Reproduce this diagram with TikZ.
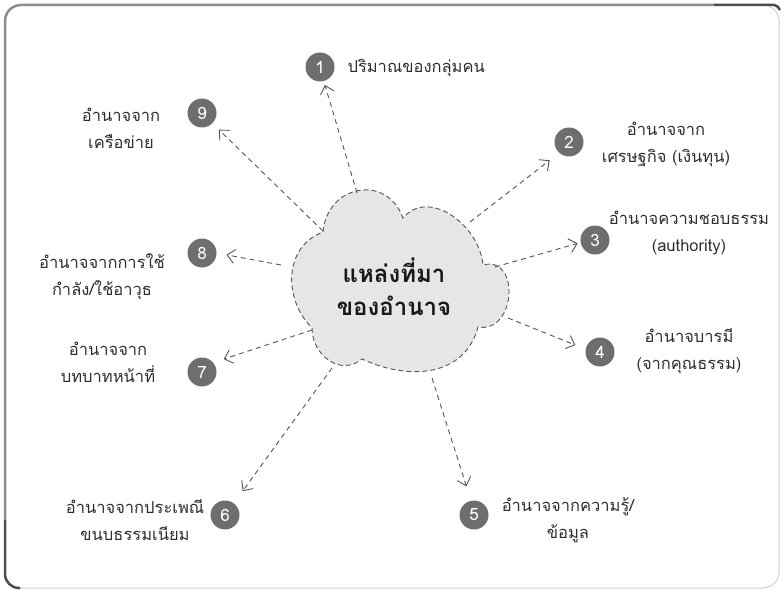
\documentclass[tikz,border=0pt]{standalone}
\usepackage{fontspec}
\newfontfamily\thaifont[Script=Thai]{Loma}
\usetikzlibrary{arrows.meta,positioning,calc}
\definecolor{dotgray}{HTML}{6E6E70}
\definecolor{cloudfill}{HTML}{E6E6E8}
\definecolor{linegray}{HTML}{555555}
\definecolor{textgray}{HTML}{2E2E2E}

\begin{document}
\begin{tikzpicture}[x=1pt,y=1pt,
  numdot/.style={circle, fill=dotgray, text=white, minimum size=29pt, inner sep=0pt,
    font=\thaifont\fontsize{17}{17}\selectfont},
  lbl/.style={align=center, text=textgray, font=\thaifont\fontsize{16.5}{27}\selectfont},
  flow/.style={draw=linegray, line width=0.9pt, dash pattern=on 5pt off 4pt,
    -{Straight Barb[length=7.5pt,width=14pt]}}]
\useasboundingbox (0,0) rectangle (782,-591);
% Frame
\draw[black!18, line width=1pt, rounded corners=16pt] (5,-5) rectangle (779,-588);
\draw[black!45, line width=2.5pt, rounded corners=16pt] (5,-520) -- (5,-5) -- (714,-5);
\draw[black!70, line width=2.5pt] (714,-5) -- (774,-5) to[out=0,in=120] (780,-10);
\draw[black!70, line width=2.5pt, rounded corners=14pt] (5,-520) -- (5,-588) -- (20,-588);
% Cloud
\draw[linegray, line width=0.9pt, dash pattern=on 5pt off 3pt, fill=cloudfill]
  (323,-232) to[out=85,in=110,looseness=1.5] (403,-218)
  to[out=50,in=95,looseness=1.1] (483,-265)
  to[out=15,in=-10,looseness=1.6] (478,-327)
  to[out=-105,in=-25,looseness=1.1] (362,-359)
  to[out=-140,in=-90,looseness=1.2] (312,-328)
  to[out=135,in=200,looseness=1.1] cycle;
\node[font=\thaifont\bfseries\fontsize{24}{33}\selectfont, align=center, text=black!90] (src)
  at (394,-287) {แหล่งที่มา\\ของอำนาจ};
% Start points on the cloud
\foreach \i/\x/\y in {1/357/193, 2/470/222, 3/495/267, 4/508/318, 5/432/378,
                      6/332/368, 7/312/330, 8/281/265, 9/323/231}
  \coordinate (c\i) at (\x,-\y);
% Numbered dots
\foreach \i/\x/\y in {1/320/67, 2/569/142, 3/595/240, 4/600/352, 5/474/515,
                      6/225/515, 7/202/372, 8/202/253, 9/202/113}
  \node[numdot] (n\i) at (\x,-\y) {\i};
% Arrows: cloud -> dot (anchor angle / gap)
\foreach \i/\a/\g in {1/285/4, 2/228/12, 3/190/3, 4/169/11, 5/102/15,
                      6/53/15, 7/40/11, 8/0/10, 9/315/9}
  \draw[flow, shorten >=\g pt] (c\i) -- (n\i.\a);
% Labels
\node[lbl, anchor=west] (t1) at (344,-68) {ปริมาณของกลุ่มคน};
\node[lbl] (t2) at (666,-144) {อำนาจจาก\\เศรษฐกิจ (เงินทุน)};
\node[lbl] (t3) at (689,-233) {อำนาจความชอบธรรม\\(authority)};
\node[lbl] (t4) at (689,-351) {อำนาจบารมี\\(จากคุณธรรม)};
\node[lbl] (t5) at (568,-520) {อำนาจจากความรู้/\\ข้อมูล};
\node[lbl] (t6) at (135,-520) {อำนาจจากประเพณี\\ขนบธรรมเนียม};
\node[lbl] (t7) at (108,-362) {อำนาจจาก\\บทบาทหน้าที่};
\node[lbl] (t8) at (102,-277) {อำนาจจากการใช้\\กำลัง/ใช้อาวุธ};
\node[lbl] (t9) at (121,-128) {อำนาจจาก\\เครือข่าย};
\end{tikzpicture}
\end{document}
